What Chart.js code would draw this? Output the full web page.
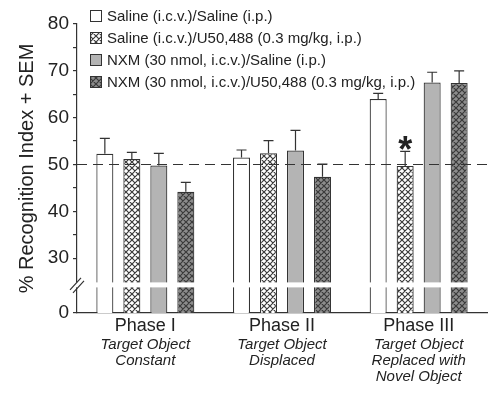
<!DOCTYPE html>
<html>
<head>
<meta charset="utf-8">
<script src="https://cdn.jsdelivr.net/npm/chart.js@4.4.0/dist/chart.umd.min.js"></script>
<style>
  html, body { margin: 0; padding: 0; background: #fff; }
</style>
</head>
<body>
<canvas id="chart" width="492" height="395"></canvas>
<script>
// data
const phases = ['Phase I', 'Phase II', 'Phase III'];
const phaseNotes = [
    ['Target Object', 'Constant'],
    ['Target Object', 'Displaced'],
    ['Target Object', 'Replaced with', 'Novel Object']
];
const seriesNames = [
    'Saline (i.c.v.)/Saline (i.p.)',
    'Saline (i.c.v.)/U50,488 (0.3 mg/kg, i.p.)',
    'NXM (30 nmol, i.c.v.)/Saline (i.p.)',
    'NXM (30 nmol, i.c.v.)/U50,488 (0.3 mg/kg, i.p.)'
];
const salSal = [52.3, 51.5, 64.0];
const salU50 = [51.2, 52.4, 49.7];
const nxmSal = [49.8, 53.0, 67.5];
const nxmU50 = [44.2, 47.4, 67.4];
const salSalErr = [3.3, 1.6, 1.2];
const salU50Err = [1.4, 2.7, 3.1];
const nxmSalErr = [2.6, 4.3, 2.2];
const nxmU50Err = [2.0, 2.7, 2.6];
const majorTicks = [30, 40, 50, 60, 70, 80];
const minorTicks = [35, 45, 55, 65, 75];
const chanceLevel = 50;

// broken axis: "0" sits at axisFloor, gap drawn at breakAt
const axisFloor = 18.3;
const breakAt = 24.3;

const FONT = '"Liberation Sans", Arial, sans-serif';
const INK = '#333';

const canvas = document.getElementById('chart');
const ctx = canvas.getContext('2d');

// diamond crosshatch fill
const hatch = (bg) => {
    const c = document.createElement('canvas');
    c.width = 6; c.height = 6;
    const g = c.getContext('2d');
    g.fillStyle = bg;
    g.fillRect(0, 0, 6, 6);
    g.strokeStyle = '#3a3a3a';
    g.lineWidth = 1.2;
    g.beginPath();
    [-6, 0, 6].forEach(o => {
        g.moveTo(o, 0); g.lineTo(o + 6, 6);
        g.moveTo(o + 6, 0); g.lineTo(o, 6);
    });
    g.stroke();
    return ctx.createPattern(c, 'repeat');
};

const fills = ['#ffffff', hatch('#ffffff'), '#b4b4b4', hatch('#8c8c8c')];
const values = [salSal, salU50, nxmSal, nxmU50];
const errors = [salSalErr, salU50Err, nxmSalErr, nxmU50Err];

// error bars, chance line, axis break, asterisk, legend
const extras = {
    id: 'extras',
    afterDatasetsDraw(chart) {
        const { ctx, chartArea: a, scales: { y } } = chart;
        ctx.save();
        ctx.strokeStyle = INK;
        ctx.lineWidth = 1.2;

        chart.data.datasets.forEach((ds, i) => {
            chart.getDatasetMeta(i).data.forEach((bar, j) => {
                const top = y.getPixelForValue(ds.data[j] + ds.errors[j]);
                ctx.beginPath();
                ctx.moveTo(bar.x, bar.y);
                ctx.lineTo(bar.x, top);
                ctx.moveTo(bar.x - 5, top);
                ctx.lineTo(bar.x + 5, top);
                ctx.stroke();
            });
        });

        // dashed line at 50
        const yc = y.getPixelForValue(chanceLevel);
        ctx.setLineDash([10, 6]);
        ctx.beginPath();
        ctx.moveTo(a.left, yc);
        ctx.lineTo(a.right, yc);
        ctx.stroke();
        ctx.setLineDash([]);

        // break band
        const yb = y.getPixelForValue(breakAt);
        ctx.fillStyle = '#fff';
        ctx.fillRect(a.left - 2, yb - 2.5, a.right - a.left + 4, 5);
        ctx.beginPath();
        ctx.moveTo(a.left - 7, yb + 5); ctx.lineTo(a.left + 4, yb - 7);
        ctx.moveTo(a.left - 4, yb + 8); ctx.lineTo(a.left + 7, yb - 4);
        ctx.stroke();

        // significance asterisk over Phase III, saline/U50,488
        const star = chart.getDatasetMeta(1).data[2];
        ctx.fillStyle = '#222';
        ctx.font = 'bold 36px ' + FONT;
        ctx.textAlign = 'center';
        ctx.textBaseline = 'alphabetic';
        ctx.fillText('*', star.x, y.getPixelForValue(salU50[2] + salU50Err[2]) + 11);

        // legend
        ctx.font = '15px ' + FONT;
        ctx.textAlign = 'left';
        ctx.textBaseline = 'middle';
        chart.data.datasets.forEach((ds, i) => {
            const cy = 16 + i * 22;
            ctx.fillStyle = ds.backgroundColor;
            ctx.fillRect(90, cy - 6, 12, 12);
            ctx.lineWidth = 1;
            ctx.strokeRect(90.5, cy - 5.5, 11, 11);
            ctx.fillStyle = '#222';
            ctx.fillText(ds.label, 107, cy + 1);
        });
        ctx.restore();
    }
};

new Chart(ctx, {
    type: 'bar',
    data: {
        labels: phases,
        datasets: values.map((v, i) => ({
            label: seriesNames[i],
            data: v,
            errors: errors[i],
            backgroundColor: fills[i],
            borderColor: INK,
            borderWidth: 1.2,
            categoryPercentage: 0.79,
            barPercentage: 0.63
        }))
    },
    options: {
        responsive: false,
        animation: false,
        layout: { padding: { top: 24, right: 5, left: 0, bottom: 0 } },
        plugins: {
            legend: { display: false },
            tooltip: { enabled: false }
        },
        scales: {
            x: {
                weight: 0,
                grid: { display: false, drawTicks: false },
                border: { display: true, color: INK, width: 1.2 },
                ticks: { color: '#222', padding: 2, font: { family: FONT, size: 18 } },
                afterFit: s => { s.height = 22; }
            },
            x2: {
                type: 'category',
                position: 'bottom',
                weight: 1,
                offset: true,
                labels: phaseNotes,
                grid: { display: false, drawTicks: false },
                border: { display: false },
                ticks: { color: '#222', padding: 2, font: { family: FONT, size: 15, style: 'italic', lineHeight: 1.07 } },
                afterFit: s => { s.height = 60; }
            },
            y: {
                min: axisFloor,
                max: 80,
                afterBuildTicks: s => {
                    s.ticks = [axisFloor, ...majorTicks, ...minorTicks]
                        .sort((p, q) => p - q)
                        .map(v => ({ value: v }));
                },
                ticks: {
                    autoSkip: false,
                    color: '#222',
                    padding: 4,
                    font: { family: FONT, size: 19 },
                    callback: v => v === axisFloor ? '0' : (majorTicks.includes(v) ? String(v) : '')
                },
                grid: { drawOnChartArea: false, tickLength: 4, color: INK, lineWidth: 1.2 },
                border: { display: true, color: INK, width: 1.2 },
                title: {
                    display: true,
                    text: '% Recognition Index + SEM',
                    color: '#222',
                    font: { family: FONT, size: 20 },
                    padding: { top: 15, bottom: 0 }
                },
                afterFit: s => { s.width = 77; }
            }
        }
    },
    plugins: [extras]
});
</script>
</body>
</html>
